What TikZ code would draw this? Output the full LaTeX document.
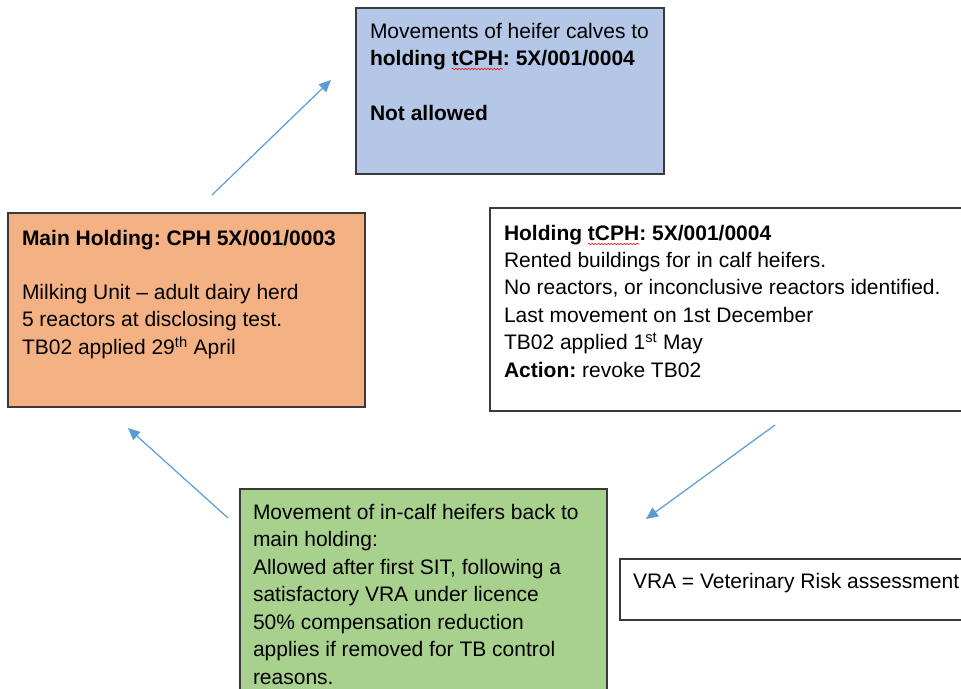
\documentclass[tikz,border=0pt]{standalone}
\usepackage{fontspec}
\setmainfont{Liberation Sans}
\frenchspacing
\usetikzlibrary{arrows.meta,decorations.pathmorphing}
\definecolor{boxblue}{HTML}{B4C7E7}
\definecolor{boxorange}{HTML}{F4B183}
\definecolor{boxgreen}{HTML}{A9D18E}
\definecolor{arrowblue}{HTML}{5B9BD5}
\definecolor{framegrey}{HTML}{3A3A3A}
\newcommand\bodyfont{\fontsize{15.75}{20.6}\selectfont\frenchspacing}

\begin{document}
\begin{tikzpicture}[x=0.75pt,y=-0.75pt,
  panel/.style={draw=framegrey, line width=1.1pt, inner sep=0pt},
  txt/.style={anchor=base west, inner sep=0pt, outer sep=0pt, align=left, font=\bodyfont},
  boldtxt/.style={txt, font=\bodyfont\bfseries},
  flow/.style={draw=arrowblue, line width=0.9pt, -{Triangle[length=9pt,width=8pt]}},
  squiggle/.style={draw=red, line width=0.4pt, decorate,
    decoration={snake, amplitude=0.6pt, segment length=2.4pt}}]
\useasboundingbox (0,0) rectangle (961,689);
\clip (0,0) rectangle (961,689);

% boxes
\node[panel, fill=boxblue,   minimum width=231pt,    minimum height=124.5pt]  (calves)  at (510,91) {};
\node[panel, fill=boxorange, minimum width=267.75pt, minimum height=145.5pt]  (main)    at (186.5,310) {};
\node[panel, fill=white,     minimum width=363.75pt, minimum height=152.25pt] (rented)  at (732.5,309.5) {};
\node[panel, fill=boxgreen,  minimum width=275.25pt, minimum height=165.75pt] (back)    at (423.5,599.5) {};
\node[panel, fill=white,     minimum width=266.25pt, minimum height=45.75pt]  (legend)  at (797.5,589.5) {};

% top box text (multi-line nodes are placed by the baseline of their last line)
\node[txt] (c1) at (370,38) {Movements of heifer calves to};
\node[boldtxt] (c2a) at (370,65) {holding\kern.278em};
\node[boldtxt] (c2b) at (c2a.base east) {tCPH};
\node[boldtxt] (c2c) at (c2b.base east) {:\kern.278em5X/001/0004};
\node[boldtxt] (c3) at (370,120) {Not allowed};
\draw[squiggle] ([yshift=-3pt]c2b.base west) -- ([yshift=-3pt]c2b.base east);

% main holding text
\node[boldtxt] (m1) at (22,245) {Main Holding: CPH 5X/001/0003};
\node[txt] (m2) at (22,354) {Milking Unit – adult dairy herd\\
5 reactors at disclosing test.\\
TB02 applied 29\textsuperscript{th} April};

% rented holding text
\node[boldtxt] (r1a) at (504,240) {Holding\kern.278em};
\node[boldtxt] (r1b) at (r1a.base east) {tCPH};
\node[boldtxt] (r1c) at (r1b.base east) {:\kern.278em5X/001/0004};
\draw[squiggle] ([yshift=-3pt]r1b.base west) -- ([yshift=-3pt]r1b.base east);
\node[txt] (r2) at (504,377) {Rented buildings for in calf heifers.\\
No reactors, or inconclusive reactors identified.\\
Last movement on 1st December\\
TB02 applied 1\textsuperscript{st} May\\
\textbf{Action:} revoke TB02};

% return movement text
\node[txt] (g1) at (253,684) {Movement of in-calf heifers back to\\
main holding:\\
Allowed after first SIT, following a\\
satisfactory VRA under licence\\
50\% compensation reduction\\
applies if removed for TB control\\
reasons.};

% legend
\node[txt] (v1) at (633,588) {VRA = Veterinary Risk assessment};

% arrows
\coordinate (a1s) at (212,195); \coordinate (a1e) at (331,80);
\coordinate (a2s) at (228,518); \coordinate (a2e) at (128,428);
\coordinate (a3s) at (775,425); \coordinate (a3e) at (646,519);
\draw[flow] (a1s) -- (a1e);
\draw[flow] (a2s) -- (a2e);
\draw[flow] (a3s) -- (a3e);
\end{tikzpicture}
\end{document}
